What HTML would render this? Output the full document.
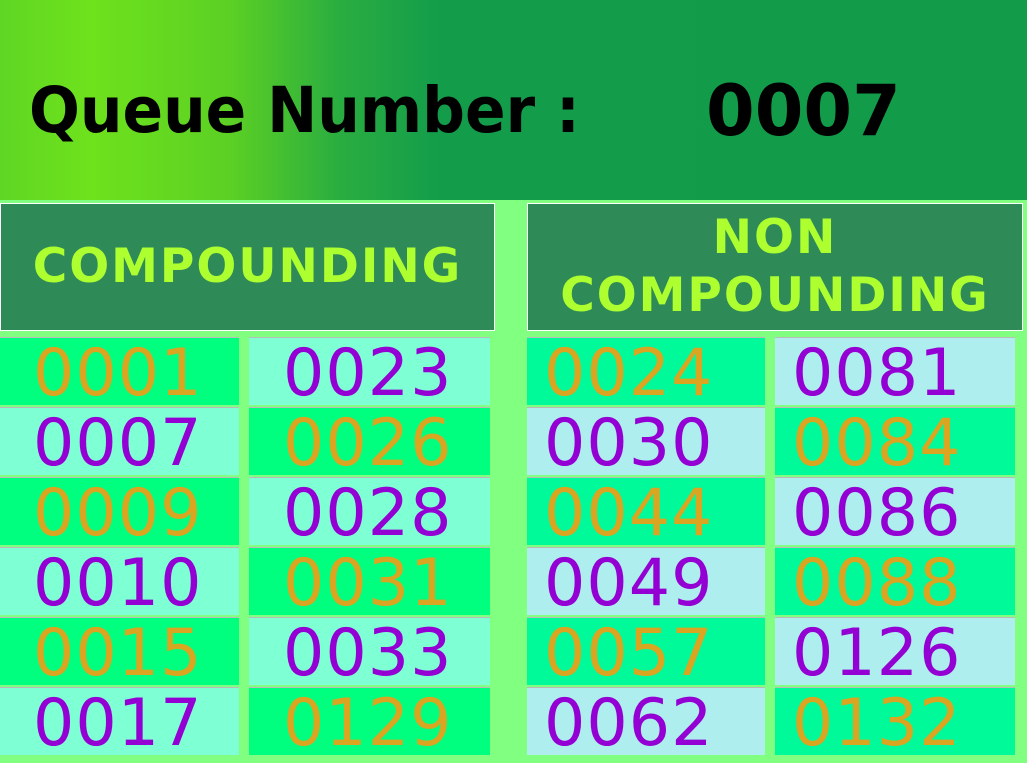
<!DOCTYPE html>
<html><head><meta charset="utf-8"><style>
body{margin:0;width:1027px;height:763px;overflow:hidden;background:#80ff80;position:relative;font-family:"DejaVu Sans","Liberation Sans",sans-serif}
.abs{position:absolute}
#hdr{left:0;top:0;width:1027px;height:200px;background:linear-gradient(to right,#5fd624 0px,#6ee21c 90px,#5cd024 230px,#2aad40 340px,#139d4b 440px,#129c4a 1027px)}
.t{position:absolute;font-weight:bold;color:#000;white-space:nowrap;line-height:1}
.sec{position:absolute;top:203px;height:128px;background:#2e8b57;border:1px solid #fff;box-sizing:border-box;color:#adff2f;font-weight:bold;font-size:47px;text-align:center;display:flex;align-items:center;justify-content:center;line-height:58px;letter-spacing:2px}
.c{position:absolute;height:68px;font-size:65px;line-height:72px;letter-spacing:1px;white-space:nowrap;border-top:1px solid #bbb;box-sizing:border-box}
.o{color:#daa520}.p{color:#9400d3}
</style></head><body>
<div id="hdr" class="abs">
<div class="t" style="left:29px;top:79px;font-size:63px;transform:scaleX(0.95);transform-origin:left">Queue Number :</div>
<div class="t" style="left:706px;top:76px;font-size:70px">0007</div>
</div>
<div class="sec" style="left:0;width:495px">COMPOUNDING</div>
<div class="sec" style="left:527px;width:496px">NON<br>COMPOUNDING</div>
<div id="grid"></div>
<script>
const compA=["0001","0007","0009","0010","0015","0017"];
const compB=["0023","0026","0028","0031","0033","0129"];
const nonA=["0024","0030","0044","0049","0057","0062"];
const nonB=["0081","0084","0086","0088","0126","0132"];
const g=document.getElementById('grid');
function col(list,x,w,pad,bgs,startColor,name){
 list.forEach((v,i)=>{
  const d=document.createElement('div');
  d.className='c '+((i+startColor)%2?'p':'o');
  d.style.left=x+'px';d.style.width=w+'px';
  d.style.top=(337+i*70)+'px';
  d.style.paddingLeft=pad+'px';
  d.style.background=bgs[(i+startColor)%2];
  d.textContent=v;
  
  
  g.appendChild(d);
 });
}
col(compA,0,239,33,["#00ff7f","#7fffd4"],0,'compounding-ticket');
col(compB,249,241,34,["#00ff7f","#7fffd4"],1,'compounding-ticket');
col(nonA,527,238,17,["#00fa9a","#afeeee"],0,'non-compounding-ticket');
col(nonB,775,240,17,["#00fa9a","#afeeee"],1,'non-compounding-ticket');
</script>
</body></html>
